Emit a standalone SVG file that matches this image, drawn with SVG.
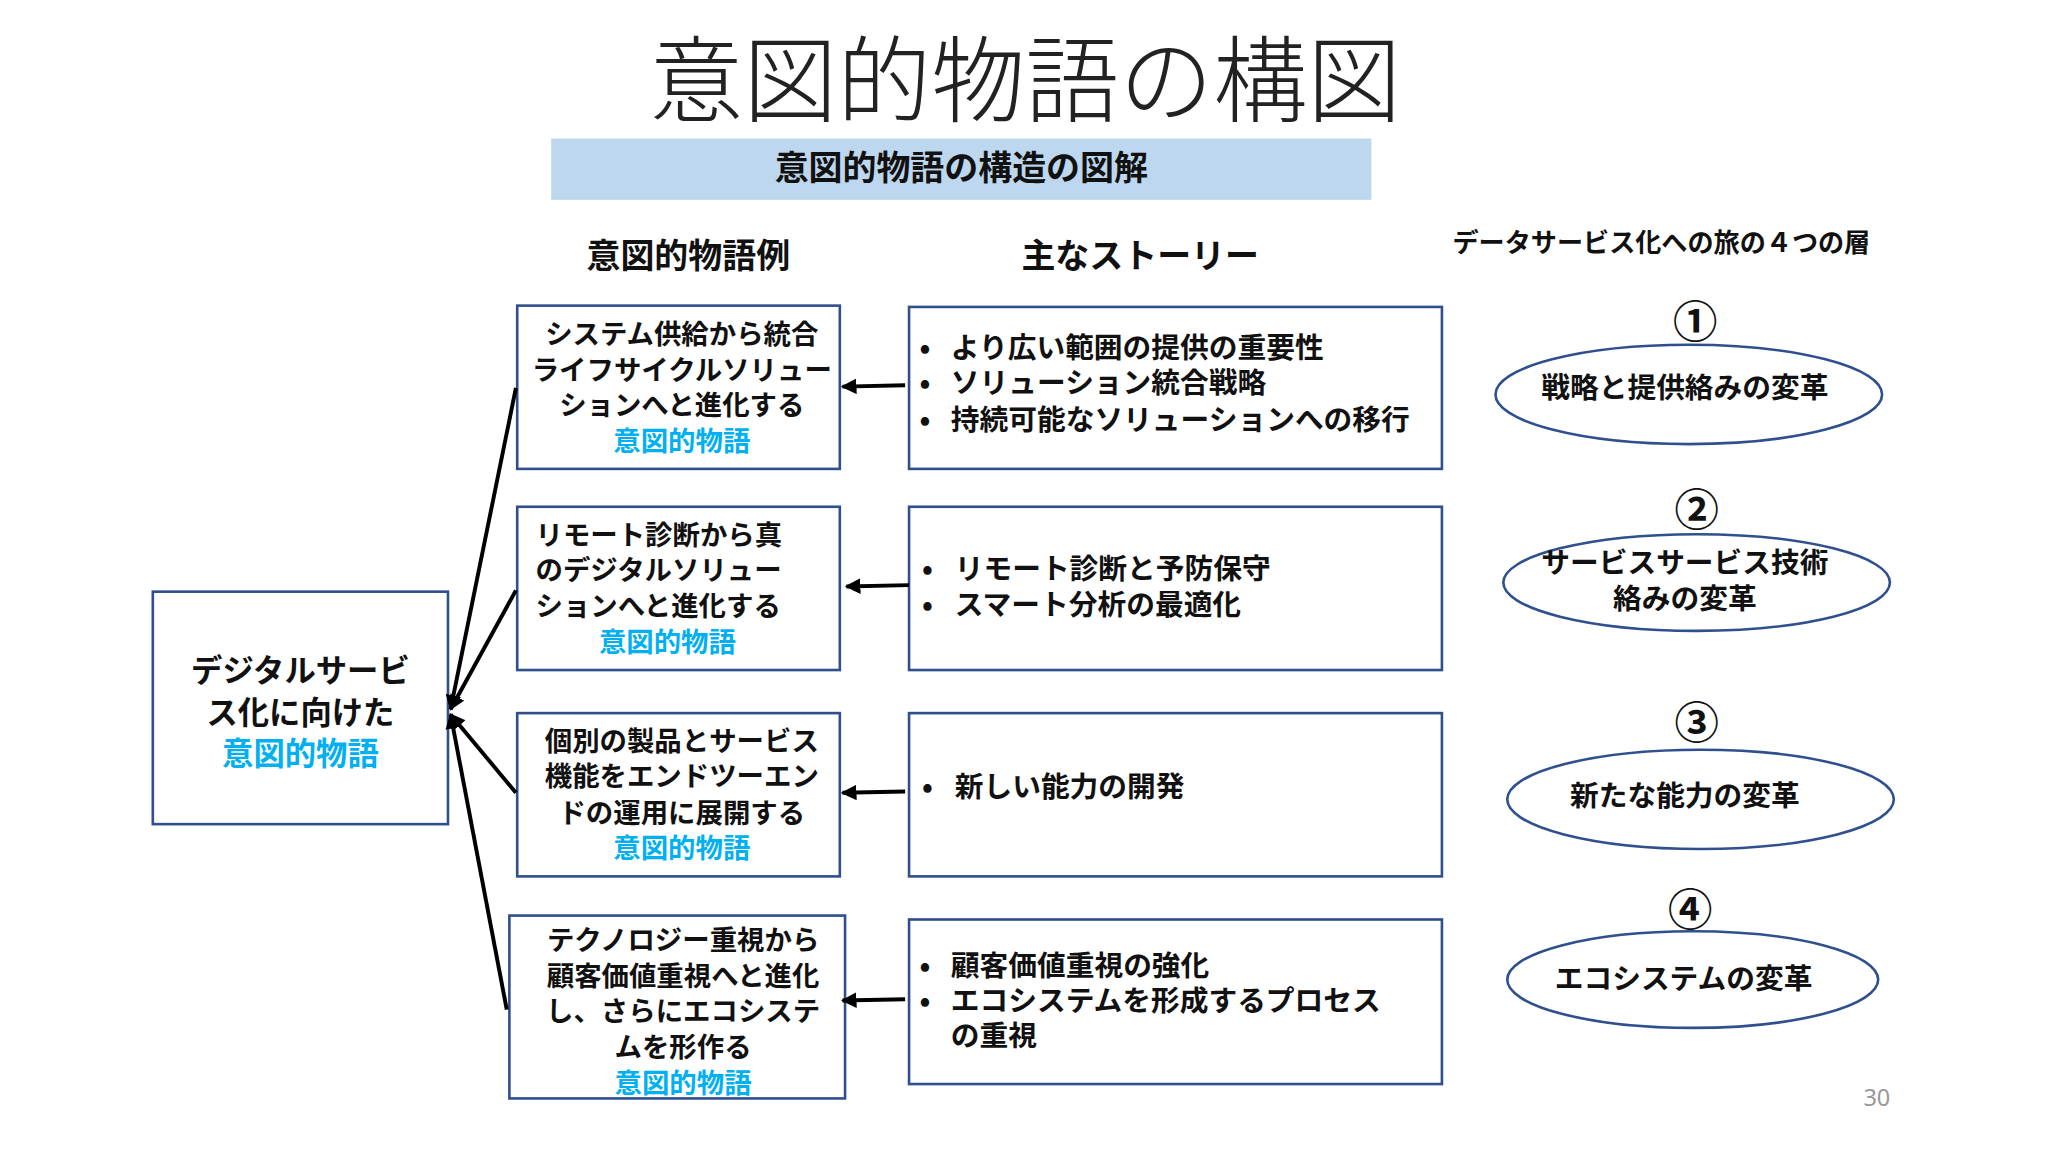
<svg xmlns="http://www.w3.org/2000/svg" width="2048" height="1152" viewBox="0 0 2048 1152">
<defs>
<style>
.t{font-family:"Noto Sans CJK JP","Noto Sans",sans-serif;font-weight:700;fill:#111}
.box{fill:#fff;stroke:#2f4f8f;stroke-width:2}
.c{text-anchor:middle}
.b{fill:#00b0f0}
.s{font-size:21px}
.m{font-size:22px}
.ln{stroke:#000;stroke-width:3;fill:none}
</style>
<marker id="ah" viewBox="0 0 10 10" refX="9" refY="5" markerWidth="4" markerHeight="4" orient="auto"><path d="M0,0L10,5L0,10z" fill="#000"/></marker>
</defs>
<rect width="2048" height="1152" fill="#fff"/>
<g transform="scale(1.3061)">
<text x="785" y="88" class="c" style="font-family:'Noto Sans CJK JP',sans-serif;font-weight:300;font-size:72px;fill:#222">意図的物語の構図</text>
<g id="banner"><rect x="422" y="106" width="628" height="47" fill="#bdd7ee"/><text x="736" y="138" class="t c" font-size="26">意図的物語の構造の図解</text></g>
<text x="527" y="205" class="t c" font-size="26">意図的物語例</text>
<text x="873" y="205" class="t c" font-size="26">主なストーリー</text>
<text x="1272" y="193" class="t c" font-size="20">データサービス化への旅の４つの層</text>
<g id="root"><rect class="box" x="117" y="453" width="226" height="178"/>
<text class="t c" font-size="24" x="230" y="522">デジタルサービ</text><text class="t c" font-size="24" x="230" y="554">ス化に向けた</text><text class="t c b" font-size="24" x="230" y="586">意図的物語</text></g>
<g id="n1"><rect class="box" x="396" y="234" width="247" height="125"/>
<text class="t c s" x="522" y="263">システム供給から統合</text><text class="t c s" x="522" y="291">ライフサイクルソリュー</text><text class="t c s" x="522" y="318">ションへと進化する</text><text class="t c s b" x="522" y="345">意図的物語</text></g>
<g id="n2"><rect class="box" x="396" y="388" width="247" height="125"/>
<text class="t s" x="410" y="417">リモート診断から真</text><text class="t s" x="410" y="444">のデジタルソリュー</text><text class="t s" x="410" y="472">ションへと進化する</text><text class="t c s b" x="511" y="499">意図的物語</text></g>
<g id="n3"><rect class="box" x="396" y="546" width="247" height="125"/>
<text class="t c s" x="522" y="575">個別の製品とサービス</text><text class="t c s" x="522" y="602">機能をエンドツーエン</text><text class="t c s" x="522" y="630">ドの運用に展開する</text><text class="t c s b" x="522" y="657">意図的物語</text></g>
<g id="n4"><rect class="box" x="390" y="701" width="257" height="140"/>
<text class="t c s" x="523" y="727">テクノロジー重視から</text><text class="t c s" x="523" y="755">顧客価値重視へと進化</text><text class="t c s" x="523" y="782">し、さらにエコシステ</text><text class="t c s" x="523" y="809">ムを形作る</text><text class="t c s b" x="523" y="837">意図的物語</text></g>
<g id="s1"><rect class="box" x="696" y="235" width="408" height="124"/>
<text class="t m" x="704" y="274">•</text><text class="t m" x="728" y="274">より広い範囲の提供の重要性</text>
<text class="t m" x="704" y="301">•</text><text class="t m" x="728" y="301">ソリューション統合戦略</text>
<text class="t m" x="704" y="329">•</text><text class="t m" x="728" y="329">持続可能なソリューションへの移行</text></g>
<g id="s2"><rect class="box" x="696" y="388" width="408" height="125"/>
<text class="t m" x="706" y="443">•</text><text class="t m" x="731" y="443">リモート診断と予防保守</text>
<text class="t m" x="706" y="471">•</text><text class="t m" x="731" y="471">スマート分析の最適化</text></g>
<g id="s3"><rect class="box" x="696" y="546" width="408" height="125"/>
<text class="t m" x="706" y="610">•</text><text class="t m" x="731" y="610">新しい能力の開発</text></g>
<g id="s4"><rect class="box" x="696" y="704" width="408" height="126"/>
<text class="t m" x="704" y="747">•</text><text class="t m" x="728" y="747">顧客価値重視の強化</text>
<text class="t m" x="704" y="774">•</text><text class="t m" x="728" y="774">エコシステムを形成するプロセス</text>
<text class="t m" x="728" y="801">の重視</text></g>
<g id="l1"><ellipse class="box" cx="1293" cy="302" rx="148" ry="38"/><text class="t c" font-size="34" x="1298" y="259">①</text><text class="t c m" x="1290" y="305">戦略と提供絡みの変革</text></g>
<g id="l2"><ellipse class="box" cx="1299" cy="446" rx="148" ry="37"/><text class="t c" font-size="34" x="1299" y="403">②</text><text class="t c m" x="1290" y="439">サービスサービス技術</text><text class="t c m" x="1290" y="466">絡みの変革</text></g>
<g id="l3"><ellipse class="box" cx="1302" cy="612" rx="148" ry="38"/><text class="t c" font-size="34" x="1299" y="566">③</text><text class="t c m" x="1290" y="617">新たな能力の変革</text></g>
<g id="l4"><ellipse class="box" cx="1296" cy="750" rx="142" ry="37"/><text class="t c" font-size="34" x="1294" y="709">④</text><text class="t c m" x="1289" y="757">エコシステムの変革</text></g>
<g id="connectors">
<line class="ln" x1="693" y1="295" x2="645" y2="296" marker-end="url(#ah)"/>
<line class="ln" x1="696" y1="448" x2="648" y2="449" marker-end="url(#ah)"/>
<line class="ln" x1="693" y1="606" x2="645" y2="607" marker-end="url(#ah)"/>
<line class="ln" x1="693" y1="765" x2="645" y2="766" marker-end="url(#ah)"/>
<line class="ln" x1="395" y1="297" x2="345" y2="543" marker-end="url(#ah)"/>
<line class="ln" x1="395" y1="452" x2="345" y2="543" marker-end="url(#ah)"/>
<line class="ln" x1="395" y1="607" x2="345" y2="547" marker-end="url(#ah)"/>
<line class="ln" x1="388" y1="773" x2="345" y2="547" marker-end="url(#ah)"/>
</g>
<text x="1437" y="847" class="c" style="font-family:'Noto Sans',sans-serif;font-size:18px;fill:#999">30</text>
</g>
</svg>
